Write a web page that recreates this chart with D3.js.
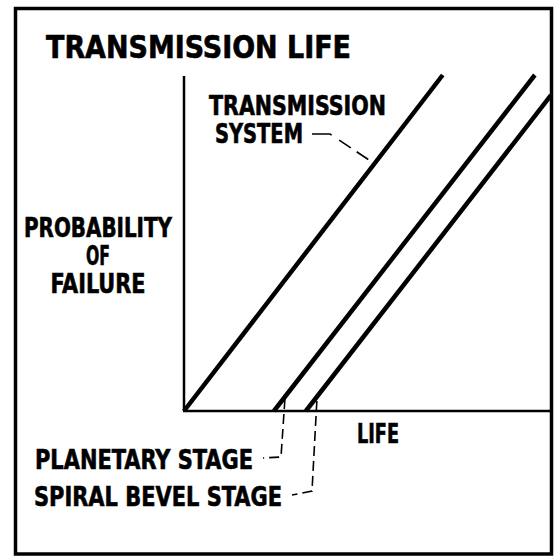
<!DOCTYPE html>
<html>
<head>
<meta charset="utf-8">
<script src="https://cdn.jsdelivr.net/npm/d3@7/dist/d3.min.js"></script>
<style>
  html, body { margin: 0; padding: 0; background: #fff; }
  svg { display: block; }
  text { font-family: "Liberation Sans Narrow", "DejaVu Sans Condensed", "Liberation Sans", sans-serif; font-weight: bold; fill: #000; stroke: #000; stroke-width: 0.6; }
</style>
</head>
<body>
<script>
// Life curves: probability of failure vs. life (schematic units 0-100)
const seriesNames = ["TRANSMISSION SYSTEM", "PLANETARY STAGE", "SPIRAL BEVEL STAGE"];
const lifeStart = [0, 24.5, 33.2];
const lifeEnd   = [70.5, 95.6, 100];
const probStart = [0, 0, 0];
const probEnd   = [100, 100, 94];

const titleText = "TRANSMISSION LIFE";
const yLabelLines = ["PROBABILITY", "OF", "FAILURE"];
const xLabelText = "LIFE";

const W = 556, H = 558;
const svg = d3.select("body").append("svg").attr("width", W).attr("height", H);

const x = d3.scaleLinear().domain([0, 100]).range([184, 551]);
const y = d3.scaleLinear().domain([0, 100]).range([411, 75]);

// outer frame
svg.append("rect")
  .attr("x", 15.5).attr("y", 8.5).attr("width", 536).attr("height", 545.5)
  .attr("fill", "none").attr("stroke", "#000").attr("stroke-width", 3.5);

// axes (plain lines, no ticks)
const xAxis = d3.axisBottom(x).tickValues([]).tickSizeOuter(0);
const yAxis = d3.axisLeft(y).tickValues([]).tickSizeOuter(0);
svg.append("g").attr("transform", `translate(0,${y(0)})`).call(xAxis)
  .select(".domain").attr("stroke-width", 2.5).attr("d", `M${x(0) - 1},0H${x(100)}`);
svg.append("g").attr("transform", `translate(${x(0)},0)`).call(yAxis)
  .select(".domain").attr("stroke-width", 2.5).attr("d", `M0,${y(0)}V${y(100) + 1}`);

// life lines
const lineGen = d3.line().x(d => x(d[0])).y(d => y(d[1]));
seriesNames.forEach((name, i) => {
  svg.append("path")
    .datum([[lifeStart[i], probStart[i]], [lifeEnd[i], probEnd[i]]])
    .attr("d", lineGen)
    .attr("fill", "none").attr("stroke", "#000").attr("stroke-width", 4.5)
    .attr("stroke-linecap", "butt");
});

function label(txt, x0, base, size, len) {
  svg.append("text").attr("x", x0).attr("y", base)
    .attr("font-size", size)
    .attr("textLength", len).attr("lengthAdjust", "spacingAndGlyphs")
    .text(txt);
}

// title
label(titleText, 46, 58, 32, 305);

// y-axis label (centred block)
const yLabelBase = [237, 265, 293];
const yLabelWidth = [148, 24, 95];
yLabelLines.forEach((t, i) => {
  label(t, 98 - yLabelWidth[i] / 2, yLabelBase[i], 27, yLabelWidth[i]);
});

// x-axis label
label(xLabelText, 357, 443, 26, 42);

// series annotations
label("TRANSMISSION", 209, 115, 26, 177);
label("SYSTEM", 215, 143, 26, 88);
label("PLANETARY STAGE", 35, 469, 27, 218);
label("SPIRAL BEVEL STAGE", 34, 506, 27, 248);

// leader lines
const leader = d3.line();
function drawLeader(pts, dash) {
  svg.append("path").attr("d", leader(pts))
    .attr("fill", "none").attr("stroke", "#000").attr("stroke-width", 1.6)
    .attr("stroke-dasharray", dash);
}
drawLeader([[312, 134], [330, 134], [369, 160]], "20,9,14,7,14");
drawLeader([[x(lifeStart[1]) + 11, 399], [281, 457], [263, 458]], "10,5");
drawLeader([[x(lifeStart[2]) + 11, 401], [312, 491], [292, 495]], "10,5");
</script>
</body>
</html>
